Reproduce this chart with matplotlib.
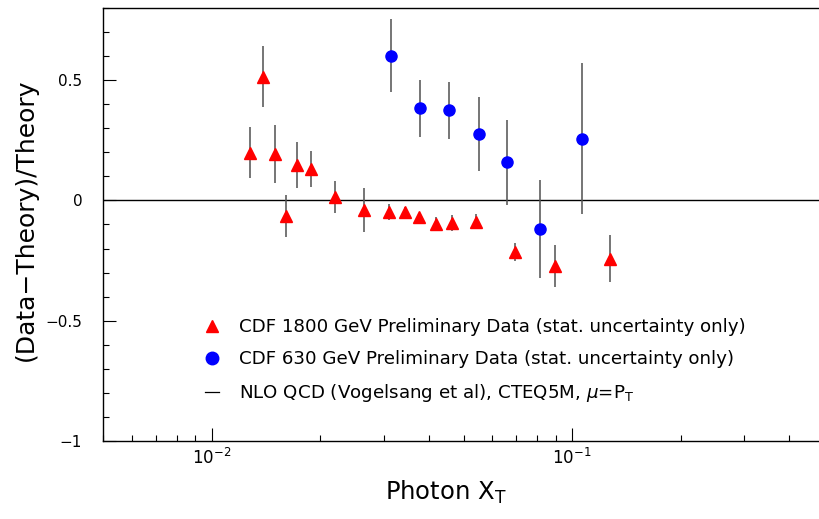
import matplotlib
matplotlib.use("Agg")
import matplotlib.pyplot as plt
from matplotlib.lines import Line2D
from matplotlib.ticker import FixedLocator, FixedFormatter, LogLocator, NullFormatter

# CDF 1800 GeV (red triangles)
x1800 = [0.01277, 0.01385, 0.01498, 0.01607, 0.01721, 0.01882, 0.02202, 0.02650,
         0.03097, 0.03443, 0.03764, 0.04207, 0.04659, 0.05431, 0.06937, 0.08995, 0.1278]
y1800 = [0.199, 0.515, 0.193, -0.066, 0.146, 0.130, 0.013, -0.040,
         -0.049, -0.049, -0.068, -0.096, -0.093, -0.088, -0.213, -0.272, -0.242]
e1800 = [0.107, 0.128, 0.120, 0.088, 0.096, 0.076, 0.067, 0.090,
         0.033, 0.020, 0.012, 0.028, 0.034, 0.030, 0.038, 0.088, 0.097]

# CDF 630 GeV (blue circles)
x630 = [0.03142, 0.03782, 0.04550, 0.05522, 0.06621, 0.08152, 0.1069]
y630 = [0.602, 0.383, 0.375, 0.276, 0.158, -0.118, 0.257]
e630 = [0.153, 0.118, 0.118, 0.153, 0.175, 0.203, 0.314]

ytick_vals = [-1, -0.5, 0, 0.5]
ytick_labels = ["\u22121", "\u22120.5", "0", "0.5"]

labels = ["CDF 1800 GeV Preliminary Data (stat. uncertainty only)",
          "CDF 630 GeV Preliminary Data (stat. uncertainty only)",
          r"NLO QCD (Vogelsang et al), CTEQ5M, $\mu$=P$_{\mathrm{T}}$"]

plt.rcParams['font.family'] = ['DejaVu Sans']
plt.rcParams['mathtext.fontset'] = 'dejavusans'

fig = plt.figure(figsize=(8.19, 5.19), dpi=100)
W, H = 819, 519
ax = fig.add_axes([103 / W, (H - 441) / H, (824 - 103) / W, (441 - 8) / H])

ax.set_xscale('log')
ax.set_xlim(0.005, 0.5)
ax.set_ylim(-1, 0.8)

ax.axhline(0, color='black', lw=1.0, zorder=1)

errc = '#505050'
ax.errorbar(x1800, y1800, yerr=e1800, fmt='^', color='red', ms=8, mec='red',
            ecolor=errc, elinewidth=1.1, capsize=0, zorder=3)
ax.errorbar(x630, y630, yerr=e630, fmt='o', color='blue', ms=8, mec='blue',
            ecolor=errc, elinewidth=1.1, capsize=0, zorder=3)

# ticks
ax.yaxis.set_major_locator(FixedLocator(ytick_vals))
ax.yaxis.set_major_formatter(FixedFormatter(ytick_labels))
ax.yaxis.set_minor_locator(FixedLocator([v / 10 for v in range(-10, 9)]))
ax.xaxis.set_major_locator(LogLocator(base=10, numticks=10))
ax.xaxis.set_minor_locator(LogLocator(base=10, subs=range(2, 10), numticks=20))
ax.xaxis.set_minor_formatter(NullFormatter())

ax.tick_params(which='both', direction='in', top=False, right=False, color='black')
ax.tick_params(which='major', length=9.5, width=0.8)
ax.tick_params(which='minor', length=4.5, width=0.8)
ax.tick_params(axis='y', which='major', labelsize=11, pad=15)
ax.tick_params(axis='x', which='major', labelsize=12, pad=5)

for s in ax.spines.values():
    s.set_linewidth(1.0)

ax.set_ylabel("(Data\u2212Theory)/Theory", fontsize=18)
ax.yaxis.set_label_coords((38 - 103) / 721, (441 - 219.5) / 433)
ax.set_xlabel(r"Photon X$_{\mathrm{T}}$", fontsize=17.5)
ax.xaxis.set_label_coords((446 - 103) / 721, -(492 - 441) / 433)
ax.xaxis.label.set_verticalalignment('center')

handles = [Line2D([], [], ls='none', marker='^', color='red', ms=9),
           Line2D([], [], ls='none', marker='o', color='blue', ms=9),
           Line2D([], [], color='black', lw=0.9)]
ax.legend(handles, labels, loc='upper left', bbox_to_anchor=((205 - 103) / 721, (441 - 318) / 433),
          frameon=False, fontsize=13.15, handlelength=0.75, handletextpad=1.1,
          labelspacing=0.77, borderpad=0, borderaxespad=0)

fig.savefig("out.png", dpi=100)
